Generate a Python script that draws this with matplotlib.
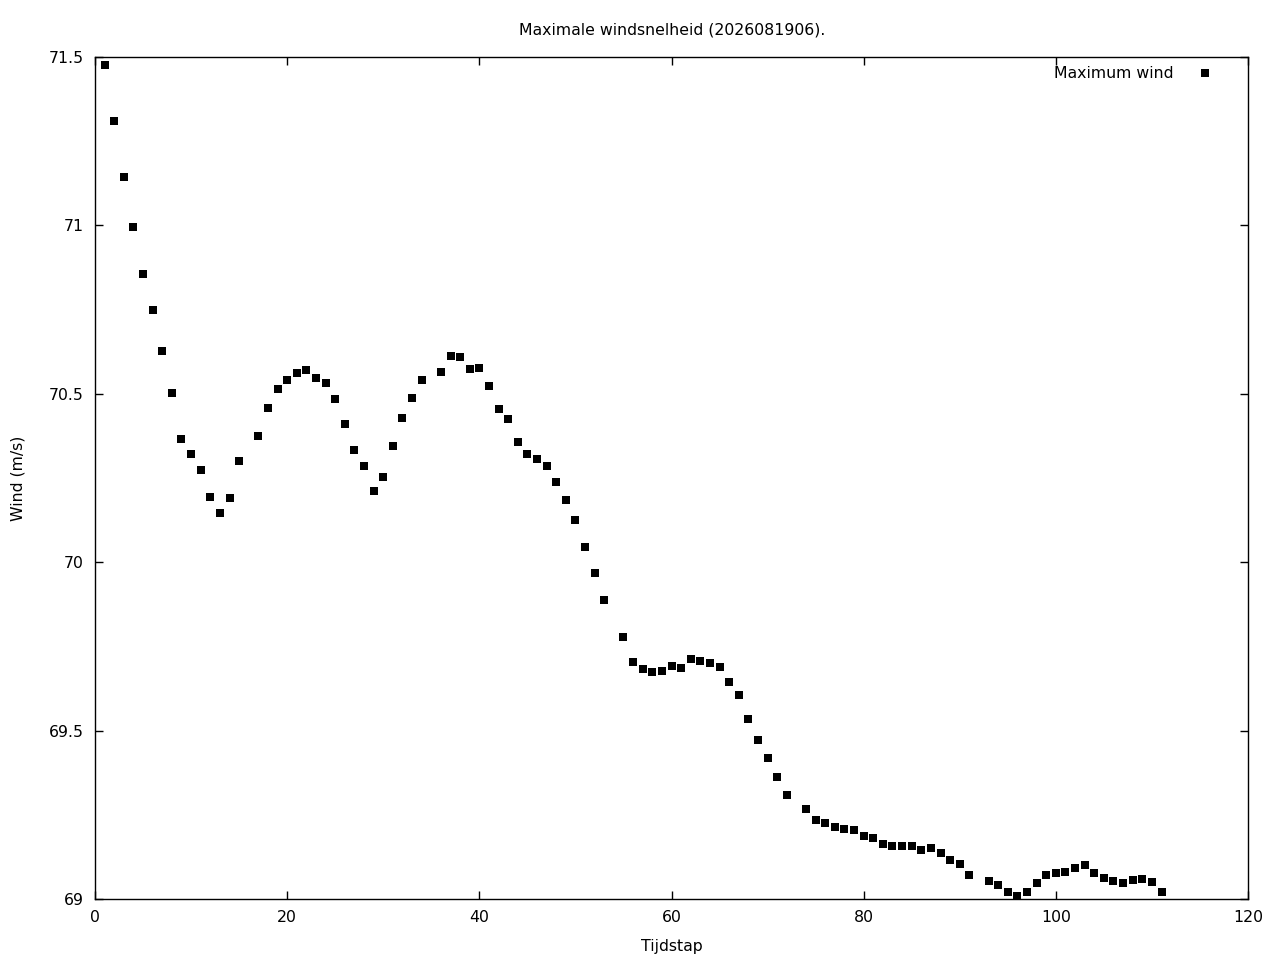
import matplotlib
matplotlib.use("Agg")
import matplotlib.pyplot as plt
from matplotlib.ticker import FuncFormatter

title = "Maximale windsnelheid (2026081906)."
xlabel = "Tijdstap"
ylabel = "Wind (m/s)"
series_name = "Maximum wind"

tijdstap = [1, 2, 3, 4, 5, 6, 7, 8, 9, 10, 11, 12, 13, 14, 15,
            17, 18, 19, 20, 21, 22, 23, 24, 25, 26, 27, 28, 29, 30,
            31, 32, 33, 34, 36, 37, 38, 39, 40, 41, 42, 43, 44, 45,
            46, 47, 48, 49, 50, 51, 52, 53, 55, 56, 57, 58, 59, 60,
            61, 62, 63, 64, 65, 66, 67, 68, 69, 70, 71, 72, 74, 75,
            76, 77, 78, 79, 80, 81, 82, 83, 84, 85, 86, 87, 88, 89,
            90, 91, 93, 94, 95, 96, 97, 98, 99, 100, 101, 102, 103,
            104, 105, 106, 107, 108, 109, 110, 111]
wind = [71.476, 71.310, 71.144, 70.995, 70.856, 70.749, 70.627, 70.502,
        70.366, 70.321, 70.274, 70.194, 70.146, 70.191, 70.300,
        70.375, 70.458, 70.514, 70.541, 70.562, 70.571, 70.547, 70.532,
        70.485, 70.410, 70.333, 70.286, 70.211, 70.253,
        70.345, 70.428, 70.488, 70.541, 70.565, 70.612, 70.609, 70.574,
        70.577, 70.523, 70.455, 70.425, 70.357, 70.321,
        70.306, 70.286, 70.238, 70.185, 70.125, 70.045, 69.968, 69.888,
        69.778, 69.704, 69.683, 69.674, 69.677, 69.692,
        69.686, 69.713, 69.707, 69.701, 69.689, 69.644, 69.606, 69.534,
        69.472, 69.419, 69.362, 69.309, 69.267, 69.235,
        69.226, 69.214, 69.208, 69.205, 69.187, 69.181, 69.163, 69.157,
        69.157, 69.157, 69.145, 69.151, 69.137, 69.116,
        69.104, 69.071, 69.053, 69.042, 69.021, 69.009, 69.021, 69.048,
        69.071, 69.077, 69.080, 69.092, 69.101,
        69.077, 69.062, 69.053, 69.048, 69.056, 69.059, 69.050, 69.021]

xticks = [0, 20, 40, 60, 80, 100, 120]
yticks = [69, 69.5, 70, 70.5, 71, 71.5]

FS = 11.3
plt.rcParams['font.family'] = ['DejaVu Sans']
plt.rcParams['font.size'] = FS

fig = plt.figure(figsize=(12.8, 9.6), dpi=100)
ax = fig.add_axes([95/1280, 1 - 899/960, (1248-95)/1280, (899-57)/960])

ax.plot(tijdstap, wind, linestyle='none', marker='s', markersize=5.2,
        color='black', markeredgewidth=0, label=series_name)

ax.set_xlim(0, 120)
ax.set_ylim(69, 71.5)
ax.set_xticks(xticks)
ax.set_yticks(yticks)
ax.yaxis.set_major_formatter(FuncFormatter(lambda v, p: f"{v:g}"))
ax.tick_params(direction='in', length=6, width=1, top=True, right=True,
               labelsize=FS, pad=8, colors='black')
for s in ax.spines.values():
    s.set_linewidth(1.0)

fig.text(672/1280, 1 - 30/960, title, ha='center', va='center', fontsize=FS)
fig.text(18/1280, 1 - 478/960, ylabel, ha='center', va='center',
         rotation=90, fontsize=FS)
fig.text(672/1280, 1 - 946/960, xlabel, ha='center', va='center', fontsize=FS)

ax.legend(loc='upper right', bbox_to_anchor=(0.9787, 0.9962), markerfirst=False,
          frameon=False, handlelength=1.5, handletextpad=1.3,
          borderaxespad=0.0, fontsize=FS, markerscale=1.05)

fig.savefig("out.png", dpi=100)
